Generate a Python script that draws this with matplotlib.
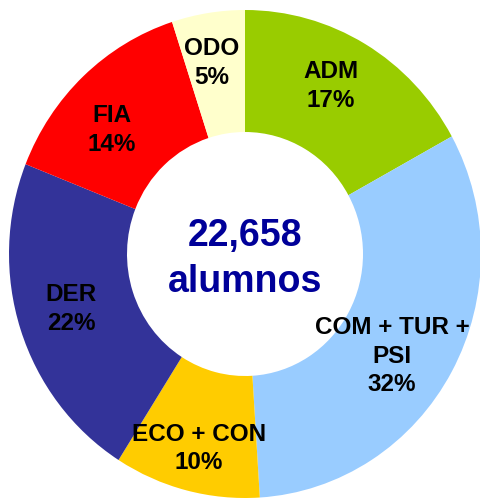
import numpy as np
import matplotlib
matplotlib.use("Agg")
import matplotlib.pyplot as plt

categories = ["ADM", "COM + TUR +\nPSI", "ECO + CON", "DER", "FIA", "ODO"]
values = [17, 32, 10, 22, 14, 5]
colors = ["#99CC00", "#99CCFF", "#FFCC00", "#333399", "#FF0000", "#FFFFCC"]
total_text = "22,658\nalumnos"

# label placement tweaks (degrees offset from wedge mid-angle, radius)
label_dang = [2.7, -5.1, 0.7, -1.0, 4.8, 1.1]
label_r = [0.78, 0.75, 0.82, 0.77, 0.76, 0.795]

W, H = 480, 498
fig = plt.figure(figsize=(W / 100, H / 100), dpi=100)
ax = fig.add_axes([0, 0, 1, 1])

wedges, _ = ax.pie(values, colors=colors, startangle=90, counterclock=False,
                   radius=1.0, wedgeprops=dict(width=0.5, linewidth=0),
                   center=(0, 0))
ax.set_aspect("auto")
rx, ry = 236.0, 244.0
cx, cy = 245.0, 244.0
ax.set_xlim(-cx / rx, (W - cx) / rx)
ax.set_ylim(-cy / ry, (H - cy) / ry)
ax.axis("off")

font = "Liberation Sans"
for cat, v, w, da, r in zip(categories, values, wedges, label_dang, label_r):
    mid = np.deg2rad((w.theta1 + w.theta2) / 2 + da)
    ax.text(r * np.cos(mid), r * np.sin(mid), f"{cat}\n{v}%",
            ha="center", va="center", fontsize=17.5, fontweight="bold",
            family=font, color="black", linespacing=1.3)

ax.text(0, -0.02, total_text, ha="center", va="center", fontsize=27,
        fontweight="bold", family=font, color="#000099", linespacing=1.35)

fig.savefig("out.png", dpi=100)
